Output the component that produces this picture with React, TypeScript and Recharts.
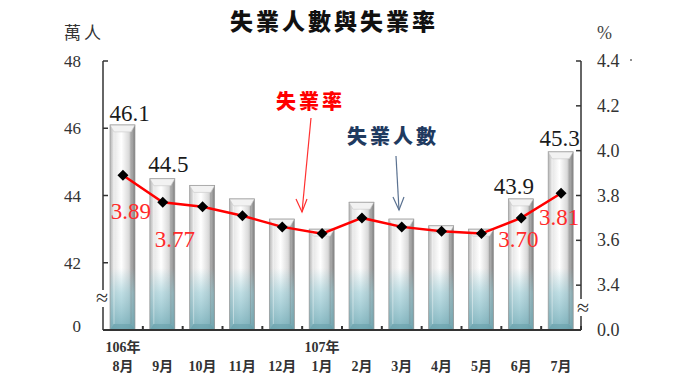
import React from 'react';
import { ComposedChart, Bar, Line, XAxis, YAxis, LabelList } from 'recharts';

const months = ['8月', '9月', '10月', '11月', '12月', '1月', '2月', '3月', '4月', '5月', '6月', '7月'];
const years = ['106年', '', '', '', '', '107年', '', '', '', '', '', ''];
const unemployed = [46.1, 44.5, 44.3, 43.9, 43.3, 43.0, 43.8, 43.3, 43.1, 43.0, 43.9, 45.3];
const rate = [3.89, 3.77, 3.75, 3.71, 3.66, 3.63, 3.70, 3.66, 3.64, 3.63, 3.70, 3.81];
const leftTicks = [40, 42, 44, 46, 48];
const rightTicks = [3.2, 3.4, 3.6, 3.8, 4.0, 4.2, 4.4];
const shownBarLabels = [0, 1, 10, 11];
const shownRateLabels = [0, 1, 10, 11];

const data = months.map((m, i) => ({ month: m, year: years[i], unemployed: unemployed[i], rate: rate[i] }));

const SERIF = '"Liberation Serif", "Times New Roman", "Noto Sans CJK TC", serif';
const CJK = '"Noto Sans CJK TC", "Noto Sans CJK SC", sans-serif';

const W = 680;
const H = 382;
const PLOT_L = 103;
const PLOT_R = 581;
const PLOT_T = 61;
const PLOT_B = 330;
const BAND = (PLOT_R - PLOT_L) / months.length;

const BarShape = (p: any) => {
  const { x, y, width: w, height: h, index } = p;
  if (w == null || h == null || h <= 0) return null;
  const bottom = y + h;
  const id = `bg${index}`;
  return (
    <g>
      <defs>
        <linearGradient id={id + 'h'} x1="0" y1="0" x2="1" y2="0">
          <stop offset="0" stopColor="#b5b5b5" />
          <stop offset="0.14" stopColor="#e4e4e4" />
          <stop offset="0.45" stopColor="#ffffff" />
          <stop offset="0.75" stopColor="#dadada" />
          <stop offset="1" stopColor="#7c7c7c" />
        </linearGradient>
        <linearGradient id={id + 'v'} gradientUnits="userSpaceOnUse" x1="0" y1={bottom - 62} x2="0" y2={bottom}>
          <stop offset="0" stopColor="#8cc4cf" stopOpacity="0" />
          <stop offset="0.4" stopColor="#8cc4cf" stopOpacity="0.55" />
          <stop offset="1" stopColor="#6aa7b3" stopOpacity="0.85" />
        </linearGradient>
      </defs>
      <rect x={x} y={y} width={w} height={h} fill={`url(#${id}h)`} />
      <rect x={x} y={y} width={w} height={h} fill={`url(#${id}v)`} />
      <polygon
        points={`${x},${y} ${x + w},${y} ${x + w - 4},${y + 7} ${x + 4},${y + 7}`}
        fill="#f2f2f2"
        stroke="#c8c8c8"
        strokeWidth={0.6}
      />
      <polygon
        points={`${x},${bottom} ${x + 4},${bottom - 6} ${x + w - 4},${bottom - 6} ${x + w},${bottom}`}
        fill="#5f98a4"
        fillOpacity={0.45}
      />
      <line x1={x + 4} y1={y + 7} x2={x + 4} y2={bottom - 6} stroke="#ffffff" strokeOpacity={0.5} strokeWidth={0.8} />
      <line x1={x + w - 4} y1={y + 7} x2={x + w - 4} y2={bottom - 6} stroke="#6c6c6c" strokeOpacity={0.35} strokeWidth={0.8} />
      <rect x={x} y={y} width={w} height={h} fill="none" stroke="#9a9a9a" strokeWidth={0.7} />
    </g>
  );
};

const Diamond = (p: any) => {
  const { cx, cy } = p;
  if (cx == null || cy == null) return null;
  const r = 5.5;
  return <polygon points={`${cx},${cy - r} ${cx + r},${cy} ${cx},${cy + r} ${cx - r},${cy}`} fill="#000" />;
};

const barLabelOffset: Record<number, [number, number]> = { 0: [7, -4], 1: [6, -7], 10: [-7, -5], 11: [-1, -6] };
const rateLabelOffset: Record<number, [number, number]> = { 0: [8, 44], 1: [12, 45], 10: [-3, 29], 11: [-2, 32] };

const BarLabel = (p: any) => {
  const { x, y, width, index, value } = p;
  if (!shownBarLabels.includes(index)) return null;
  const [dx, dy] = barLabelOffset[index] || [0, -6];
  return (
    <text x={x + width / 2 + dx} y={y + dy} textAnchor="middle" fontFamily={SERIF} fontSize={23} fill="#1a1a1a">
      {Number(value).toFixed(1)}
    </text>
  );
};

const RateLabel = (p: any) => {
  const { x, y, index, value } = p;
  if (!shownRateLabels.includes(index)) return null;
  const [dx, dy] = rateLabelOffset[index] || [0, 20];
  return (
    <text x={x + dx} y={y + dy} textAnchor="middle" fontFamily={SERIF} fontSize={23} fill="#ff2a2a">
      {Number(value).toFixed(2)}
    </text>
  );
};

const LeftTick = (p: any) => {
  const { x, y, payload } = p;
  const v = payload.value;
  const label = v === 40 ? '0' : String(v);
  return (
    <g>
      {v !== 40 && <line x1={x} y1={y} x2={x + 5} y2={y} stroke="#333" strokeWidth={1.5} />}
      <text x={x - 22} y={(v === 40 ? y - 4 : y) + 6} textAnchor="end" fontFamily={SERIF} fontSize={17} fill="#333">
        {label}
      </text>
    </g>
  );
};

const RightTick = (p: any) => {
  const { x, y, payload } = p;
  const v = payload.value;
  const label = Math.abs(v - 3.2) < 1e-6 ? '0.0' : v.toFixed(1);
  return (
    <g>
      {Math.abs(v - 3.2) > 1e-6 && <line x1={x - 5} y1={y} x2={x} y2={y} stroke="#333" strokeWidth={1.5} />}
      <text x={x + 16} y={y + 6} textAnchor="start" fontFamily={SERIF} fontSize={18} fill="#333">
        {label}
      </text>
    </g>
  );
};

const XTick = (p: any) => {
  const { x, y, index, payload } = p;
  const yr = years[index];
  return (
    <g>
      <line x1={x + BAND / 2} y1={y} x2={x + BAND / 2} y2={y - 4} stroke="#333" strokeWidth={2} />
      {yr && (
        <text x={x} y={y + 22} textAnchor="middle" fontFamily={SERIF} fontWeight="bold" fontSize={14} fill="#333">
          {yr}
        </text>
      )}
      <text x={x} y={y + 41} textAnchor="middle" fontFamily={SERIF} fontWeight="bold" fontSize={14} fill="#333">
        {payload.value}
      </text>
    </g>
  );
};

export default function App() {
  return (
    <div style={{ position: 'absolute', left: 0, top: 0, width: W, height: H, background: '#fff' }}>
      <ComposedChart
        width={W}
        height={H}
        data={data}
        margin={{ top: PLOT_T, right: 0, bottom: 0, left: 0 }}
        barCategoryGap={0}
      >
        <XAxis
          dataKey="month"
          height={H - PLOT_B - 0}
          axisLine={{ stroke: '#333', strokeWidth: 2 }}
          tickLine={false}
          tickSize={0}
          tickMargin={0}
          tick={<XTick />}
          interval={0}
        />
        <YAxis
          yAxisId="left"
          orientation="left"
          width={PLOT_L}
          domain={[40, 48]}
          ticks={leftTicks}
          allowDataOverflow
          axisLine={{ stroke: '#333', strokeWidth: 1.5 }}
          tickLine={false}
          tickSize={0}
          tickMargin={0}
          tick={<LeftTick />}
        />
        <YAxis
          yAxisId="right"
          orientation="right"
          width={W - PLOT_R}
          domain={[3.2, 4.4]}
          ticks={rightTicks}
          allowDataOverflow
          axisLine={{ stroke: '#333', strokeWidth: 1.5 }}
          tickLine={false}
          tickSize={0}
          tickMargin={0}
          tick={<RightTick />}
        />
        <Bar yAxisId="left" dataKey="unemployed" barSize={25} shape={<BarShape />} isAnimationActive={false}>
          <LabelList dataKey="unemployed" content={<BarLabel />} />
        </Bar>
        <Line
          yAxisId="right"
          dataKey="rate"
          stroke="#ff0000"
          strokeWidth={2.5}
          dot={<Diamond />}
          activeDot={false}
          isAnimationActive={false}
        >
          <LabelList dataKey="rate" content={<RateLabel />} />
        </Line>
      </ComposedChart>
      <svg width={W} height={H} style={{ position: 'absolute', left: 0, top: 0, pointerEvents: 'none' }}>
        <text x={334} y={30} textAnchor="middle" fontFamily={CJK} fontWeight={900} fontSize={23} letterSpacing={3} fill="#111">
          失業人數與失業率
        </text>
        <text x={64} y={39} fontFamily={CJK} fontSize={17} letterSpacing={3} fill="#333">
          萬人
        </text>
        <text x={597} y={39} fontFamily={SERIF} fontSize={18} fill="#444">
          %
        </text>
        <circle cx={631} cy={60} r={0.8} fill="#000" />
        <text x={276} y={109} fontFamily={CJK} fontWeight={900} fontSize={20} letterSpacing={3} fill="#ff0000">
          失業率
        </text>
        <line x1={311} y1={118} x2={302} y2={212} stroke="#ff3030" strokeWidth={1.2} />
        <polyline points="296,199 302,212 307,199" fill="none" stroke="#ff3030" strokeWidth={1.2} />
        <text x={347} y={144} fontFamily={CJK} fontWeight={900} fontSize={20} letterSpacing={3} fill="#1f3a60">
          失業人數
        </text>
        <line x1={396} y1={156} x2={399} y2={210} stroke="#5b7291" strokeWidth={1.2} />
        <polyline points="393,197 399,210 404,197" fill="none" stroke="#5b7291" strokeWidth={1.2} />
        <rect x={96} y={290} width={12} height={17} fill="#fff" />
        <text x={102} y={305} textAnchor="middle" fontFamily={SERIF} fontSize={22} fill="#333">
          ≈
        </text>
        <rect x={575} y={299} width={12} height={17} fill="#fff" />
        <text x={583} y={315} textAnchor="middle" fontFamily={SERIF} fontSize={22} fill="#333">
          ≈
        </text>
      </svg>
    </div>
  );
}
